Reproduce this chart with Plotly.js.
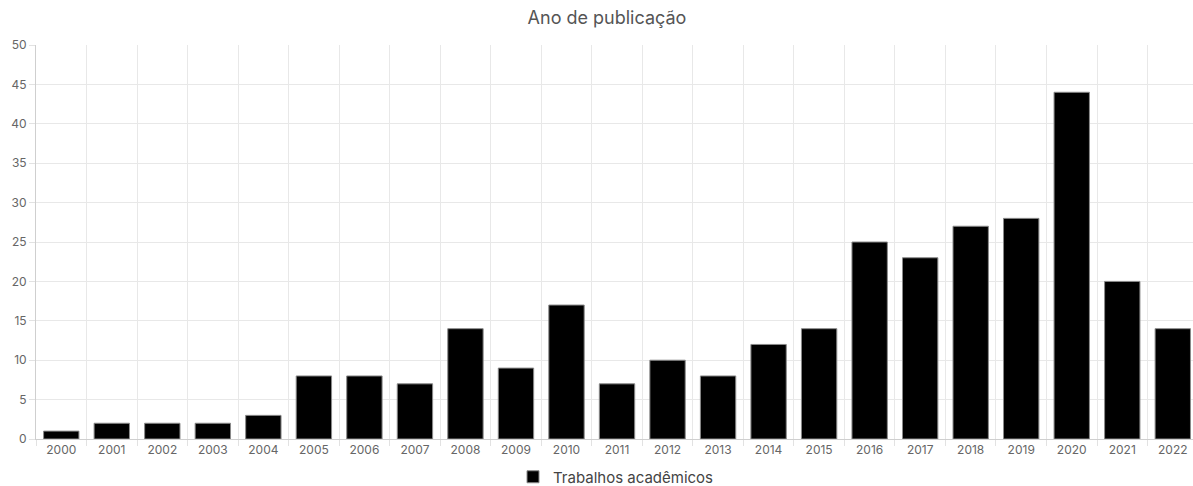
<!DOCTYPE html>
<html>
<head>
<meta charset="utf-8">
<script src="https://cdn.plot.ly/plotly-3.0.1.min.js"></script>
<style>
html,body{margin:0;padding:0;background:#fff;}
#chart{width:1193px;height:486px;}
</style>
</head>
<body>
<div id="chart"></div>
<script>
const years = ["2000","2001","2002","2003","2004","2005","2006","2007","2008","2009","2010","2011","2012","2013","2014","2015","2016","2017","2018","2019","2020","2021","2022"];
const counts = [1,2,2,2,3,8,8,7,14,9,17,7,10,8,12,14,25,23,27,28,44,20,14];
const seriesName = "Trabalhos acadêmicos";
const chartTitle = "Ano de publicação";

const FONT = "Inter, Roboto, 'Liberation Sans', sans-serif";

const data = [{
  type: "bar",
  x: years,
  y: counts,
  name: seriesName,
  marker: {color: "#000000", line: {color: "#8a8a8a", width: 1}},
  hoverinfo: "x+y",
  showlegend: true
}];

const layout = {
  width: 1193,
  height: 486,
  margin: {l: 36, r: 0, t: 45, b: 47, pad: 0},
  paper_bgcolor: "#ffffff",
  plot_bgcolor: "#ffffff",
  font: {family: FONT, size: 12, color: "#666666"},
  title: {
    text: chartTitle,
    font: {family: FONT, size: 18, color: "#555555"},
    x: 607/1193, xanchor: "center", xref: "container",
    y: 1 - 18/486, yanchor: "middle", yref: "container"
  },
  bargap: 0.3,
  xaxis: {
    type: "category",
    range: [-0.5, 22.4],
    tickson: "boundaries",
    ticks: "outside",
    ticklen: 6,
    tickcolor: "#e2e2e2",
    showgrid: true,
    gridcolor: "#e8e8e8",
    gridwidth: 1,
    showline: true,
    linecolor: "#cfcfcf",
    linewidth: 1,
    automargin: false,
    tickfont: {family: FONT, size: 12, color: "#666666"},
    fixedrange: true
  },
  yaxis: {
    range: [0, 50],
    dtick: 5,
    tick0: 0,
    ticks: "outside",
    ticklen: 6,
    tickcolor: "#e2e2e2",
    showgrid: true,
    gridcolor: "#e8e8e8",
    gridwidth: 1,
    zeroline: false,
    showline: true,
    linecolor: "#cfcfcf",
    linewidth: 1,
    automargin: false,
    tickfont: {family: FONT, size: 12, color: "#666666"},
    fixedrange: true
  },
  showlegend: true,
  legend: {
    orientation: "h",
    xref: "container", yref: "container",
    x: 513/1193, xanchor: "left",
    y: 1 - 477/486, yanchor: "middle",
    font: {family: FONT, size: 15, color: "#444444"},
    itemwidth: 30,
    bgcolor: "rgba(0,0,0,0)"
  }
};

Plotly.newPlot("chart", data, layout, {displayModeBar: false, staticPlot: true});
</script>
</body>
</html>
